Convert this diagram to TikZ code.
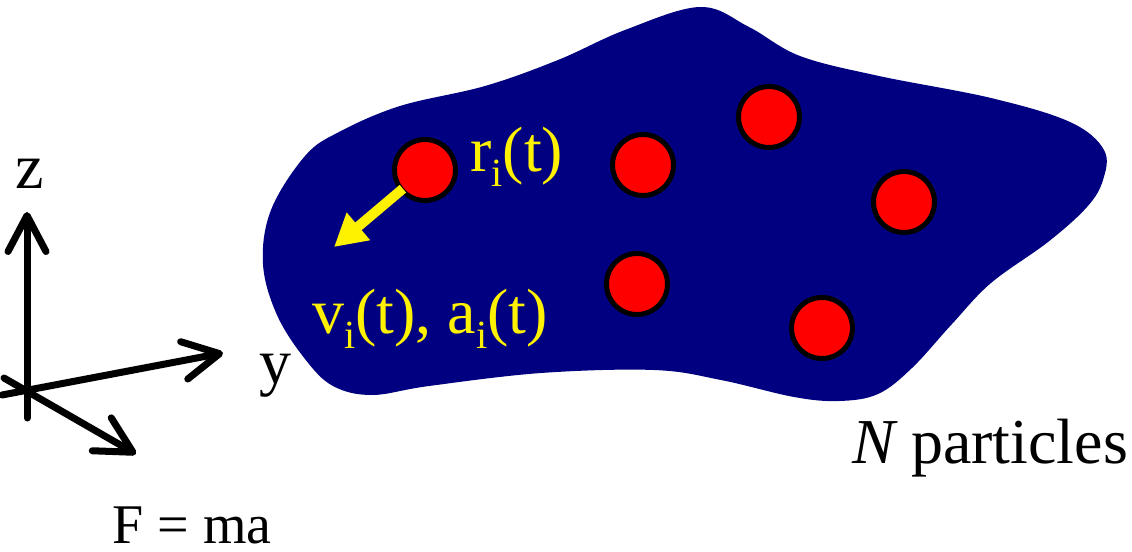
\documentclass[tikz,border=0pt]{standalone}
\usepackage{fontspec}
\setmainfont{Liberation Serif}
\usepackage{tikz}
\usetikzlibrary{arrows.meta}

\newcommand{\partsub}[1]{\raisebox{-0.24em}{\fontsize{20}{20}\selectfont #1}}

\begin{document}
\begin{tikzpicture}[
      x=0.5pt, y=-0.5pt,
      axis/.style={line width=3.5pt, line cap=round, -{Straight Barb[length=18pt, width=19pt, line cap=round, line join=round]}},
      particle/.style={circle, fill=red, draw=black, line width=2.5pt, minimum size=30.5pt, inner sep=0},
      yarr/.style={yellow, line width=5pt, -{Triangle[length=16pt, width=17pt]}, shorten <=-2pt},
      lbl/.style={inner sep=0, font=\fontsize{32}{38}\selectfont},
      ylbl/.style={lbl, text=yellow}
    ]
    \useasboundingbox (0,0) rectangle (1132,552);

    % the region holding the particles
    \fill[fill={rgb,255:red,0;green,0;blue,128}] plot[smooth cycle, tension=0.6] coordinates {
      (700,7) (749,27) (800,56) (879,76) (991,98) (1070,122) (1104,150) (1103,180)
      (1087,207) (1048,242) (991,283) (952,324) (912,368) (878,394) (839,401) (794,397)
      (721,380) (654,370) (541,373) (429,386) (372,395) (333,386) (305,359) (277,315)
      (263,264) (271,210) (305,156) (339,132) (400,106) (485,86) (558,60) (625,30)};

    % axes
    \coordinate (O) at (27,391);
    \coordinate (zbot) at (27,418);
    \coordinate (ztip) at (27,212);
    \coordinate (ybot) at (2,395);
    \coordinate (ytip) at (223,353);
    \coordinate (xbot) at (4,378);
    \coordinate (xtip) at (136,454);
    \draw[axis] (zbot) -- (ztip);
    \draw[axis] (ybot) -- (ytip);
    \draw[axis] (xbot) -- (xtip);
    \node[lbl, anchor=base] (zl) at (30,188) {z};
    \node[lbl, anchor=base west] (yl) at (259,383) {y};

    % particles
    \node[particle] (p1) at (425,170) {};
    \node[particle] (p2) at (643,165) {};
    \node[particle] (p3) at (769,117) {};
    \node[particle] (p4) at (904,202) {};
    \node[particle] (p5) at (637,284) {};
    \node[particle] (p6) at (822,328) {};

    \coordinate (vtip) at (334,247);
    \draw[yarr] (p1) -- (vtip);

    \node[ylbl, anchor=base west] (rl) at (470,171) {r\partsub{i}(t)};
    \node[ylbl, anchor=base west] (vl) at (312,333) {v\partsub{i}(t), a\partsub{i}(t)};

    \node[lbl, anchor=base west] (np) at (852,463) {\itshape N\upshape{} particles};
    \node[lbl, anchor=base west, font=\fontsize{28}{33}\selectfont] (fma) at (112,543) {F = ma};
  \end{tikzpicture}
\end{document}
